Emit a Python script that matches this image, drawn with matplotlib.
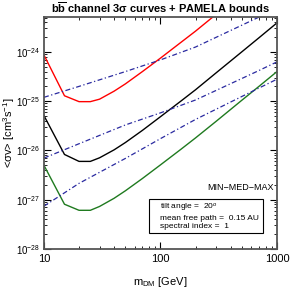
import matplotlib
matplotlib.use('Agg')
import matplotlib.pyplot as plt
from matplotlib.patches import Rectangle
import numpy as np

plt.rcParams['font.family'] = ['Liberation Sans', 'DejaVu Sans']
plt.rcParams['mathtext.fontset'] = 'custom'
plt.rcParams['mathtext.rm'] = 'Liberation Sans'
plt.rcParams['mathtext.it'] = 'Liberation Sans:italic'
plt.rcParams['mathtext.bf'] = 'Liberation Sans:bold'

# masse DM [GeV] per le curve 3 sigma
mass = [10, 15, 20, 25, 30, 40, 50, 70, 100, 150, 200, 300, 500, 700, 1000]
sv_max = [8.7e-25, 1.29e-25, 9.8e-26, 9.8e-26, 1.1e-25, 1.6e-25, 2.25e-25, 4.0e-25,
          7.5e-25, 1.57e-24, 2.65e-24, 5.8e-24, 1.57e-23, 3.0e-23, 6.0e-23]
sv_med = [5.1e-26, 8.3e-27, 6.0e-27, 6.0e-27, 7.1e-27, 1.03e-26, 1.45e-26, 2.56e-26,
          4.85e-26, 1.01e-25, 1.71e-25, 3.76e-25, 1.01e-24, 1.94e-24, 3.9e-24]
sv_min = [5.0e-27, 8.1e-28, 6.1e-28, 6.1e-28, 7.3e-28, 1.07e-27, 1.52e-27, 2.7e-27,
          5.1e-27, 1.06e-26, 1.8e-26, 3.9e-26, 1.05e-25, 2.0e-25, 4.0e-25]

# limiti PAMELA
mass_pam = [10, 20, 50, 100, 200, 500, 700, 1000]
pam_max = [1.2e-25, 2.0e-25, 4.0e-25, 6.9e-25, 1.26e-24, 3.5e-24, 5.1e-24, 7.8e-24]
pam_med = [7.0e-27, 1.37e-26, 3.3e-26, 5.8e-26, 1.06e-25, 2.9e-25, 4.2e-25, 6.3e-25]
pam_min = [7.4e-28, 2.15e-27, 6.9e-27, 1.74e-26, 4.27e-26, 1.25e-25, 1.85e-25, 2.8e-25]

fig = plt.figure(figsize=(2.95, 2.95), dpi=100)
ax = fig.add_axes([0.149, 0.156, 0.79, 0.786])

ax.plot(mass, sv_max, color='red', lw=1.0)
ax.plot(mass, sv_med, color='black', lw=1.0)
ax.plot(mass, sv_min, color='#1f7a1f', lw=1.0)

for p in [pam_max, pam_med, pam_min]:
    ax.plot(mass_pam, p, color='#2a2aa0', lw=0.9, ls=(0, (4, 2, 1, 2)))

ax.set_xscale('log')
ax.set_yscale('log')
ax.set_xlim(10, 1000)
ax.set_ylim(1e-28, 5.1e-24)
ax.set_yticks([1e-28, 1e-27, 1e-26, 1e-25, 1e-24])
ax.set_xticks([10, 100, 1000])
ax.set_xticklabels(['10', '100', '1000'])

ax.tick_params(which='both', direction='in', top=True, right=True, labelsize=8)
ax.tick_params(axis='y', labelsize=7, pad=2.5)
ax.tick_params(which='major', length=5, width=0.8)
ax.tick_params(which='minor', length=2.5, width=0.6)
for s in ax.spines.values():
    s.set_linewidth(1.3)
    s.set_color('#555555')

ax.set_xlabel(r'm$_{\rm DM}$ [GeV]', fontsize=8, labelpad=8)
ax.set_ylabel(r'<σv> [cm$^3$s$^{-1}$]', fontsize=8)
ax.yaxis.set_label_coords(-0.117, 0.5)
ax.set_title(r'$\mathbf{b\overline{b}}$ channel 3σ curves + PAMELA bounds',
             fontsize=8, fontweight='bold', pad=3)

ax.text(0.845, 0.267, 'MIN−MED−MAX', transform=ax.transAxes, fontsize=6.5,
        ha='center', va='center')

# riquadro parametri
ax.add_patch(Rectangle((0.451, 0.069), 0.489, 0.147, transform=ax.transAxes,
                       fc='white', ec='black', lw=0.8, zorder=3))
ax.text(0.498, 0.142, 'tilt angle =  20$^o$\nmean free path =  0.15 AU\nspectral index =  1',
        transform=ax.transAxes, fontsize=6, ha='left', va='center', linespacing=1.2,
        zorder=4)

fig.savefig('out.png', dpi=100)
